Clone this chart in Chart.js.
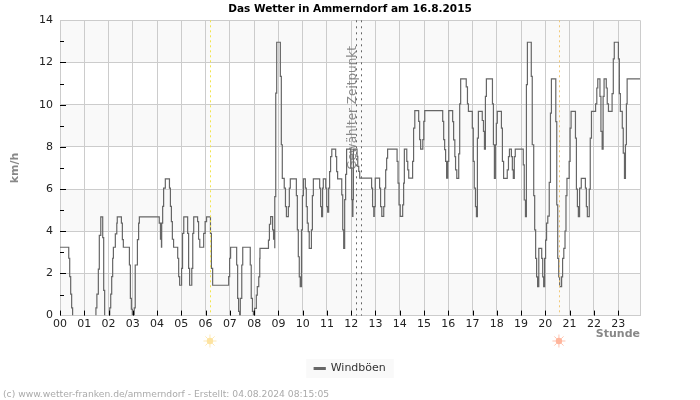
<!DOCTYPE html>
<html>
<head>
<meta charset="utf-8">
<script src="https://cdn.jsdelivr.net/npm/chart.js@4"></script>
<style>
body { margin: 0; background: #fff; }
</style>
</head>
<body>
<canvas id="chartWetter" width="700" height="400"></canvas>
<script>
const hourLabels = ['00','01','02','03','04','05','06','07','08','09','10','11','12','13','14','15','16','17','18','19','20','21','22','23'];
const axisEnd = 23.9;
const speedTicks = [0, 2, 4, 6, 8, 10, 12, 14];
const minorTicks = [1, 3, 5, 7, 9, 11, 13];
const bands = [[0, 2], [4, 6], [8, 10], [12, 14]];
const sunrise = 6.2;
const sunset = 20.58;
const selectedTime = [12.18, 12.42];

// Windboeen: Zeit in Stunden und km/h, Stufenlinie
const gustHours = [
  0, .36, .40, .44, .48, .52, 1.48, 1.48, 1.52, 1.58, 1.62, 1.68, 1.76, 1.80, 1.84, 2.05, 2.05, 2.09, 2.13, 2.17,
  2.2, 2.28, 2.34, 2.36, 2.53, 2.57, 2.61, 2.86, 2.9, 2.94, 2.98, 3.06, 3.06, 3.1, 3.19, 3.24, 3.27,
  4.09, 4.14, 4.18, 4.19, 4.23, 4.27, 4.34, 4.51, 4.55, 4.59, 4.63, 4.68, 4.85, 4.89, 4.93,
  5.01, 5.05, 5.10, 5.26, 5.30, 5.34, 5.43, 5.47, 5.51, 5.67, 5.71, 5.76, 5.92, 5.98,
  6.04, 6.2, 6.24, 6.29, 6.95, 6.99, 7.03, 7.28, 7.32, 7.36, 7.4, 7.43, 7.43, 7.49, 7.53, 7.84, 7.88, 7.93, 7.97, 8.02, 8.02,
  8.09, 8.13, 8.19, 8.23, 8.24, 8.59, 8.63, 8.68, 8.76, 8.80, 8.85, 8.85, 8.89, 8.93,
  9.08, 9.12, 9.16, 9.24, 9.29, 9.33, 9.41, 9.45, 9.49, 9.74, 9.78, 9.82, 9.86, 9.9, 9.95, 9.99,
  10.03, 10.11, 10.15, 10.19, 10.23, 10.27, 10.36, 10.4, 10.44, 10.7, 10.74, 10.78, 10.82, 10.85, 10.95, 10.99,
  11.03, 11.07, 11.11, 11.15, 11.2, 11.36, 11.4, 11.44, 11.61, 11.65, 11.69, 11.73, 11.77, 11.81, 11.98,
  12.02, 12.05, 12.07, 12.09, 12.24, 12.27, 12.31, 12.35, 12.84, 12.88, 12.93, 12.95, 12.99,
  13.17, 13.21, 13.26, 13.34, 13.38, 13.42, 13.46, 13.5, 13.89, 13.93, 13.97,
  14.02, 14.12, 14.16, 14.19, 14.29, 14.33, 14.37, 14.53, 14.57, 14.62, 14.78, 14.82, 14.86, 14.95, 14.99,
  15.03, 15.77, 15.81, 15.85, 15.89, 15.93, 15.98, 16.02,
  16.18, 16.22, 16.27, 16.3, 16.35, 16.43, 16.47, 16.51, 16.74, 16.79, 16.83, 16.99,
  17.03, 17.07, 17.12, 17.16, 17.2, 17.24, 17.4, 17.45, 17.49, 17.53, 17.57, 17.82, 17.86, 17.9, 17.94, 17.98,
  18.02, 18.19, 18.23, 18.28, 18.43, 18.48, 18.52, 18.6, 18.64, 18.68, 18.72, 18.76,
  19.09, 19.13, 19.18, 19.22, 19.26, 19.42, 19.46, 19.52, 19.56, 19.6, 19.64, 19.68, 19.73, 19.85, 19.89, 19.93, 19.97,
  20.01, 20.05, 20.1, 20.16, 20.21, 20.25, 20.43, 20.47, 20.51, 20.55, 20.59, 20.67, 20.71, 20.76, 20.81, 20.85, 20.89, 20.98,
  21.02, 21.06, 21.24, 21.28, 21.32, 21.36, 21.41, 21.48, 21.65, 21.69, 21.73, 21.81, 21.85, 21.9,
  22.07, 22.12, 22.16, 22.25, 22.29, 22.34, 22.38, 22.42, 22.51, 22.55, 22.6, 22.75, 22.8, 22.84,
  23.01, 23.05, 23.09, 23.17, 23.21, 23.26, 23.3, 23.34, 23.37, 23.9
];
const gustSpeeds = [
  3.24, 2.72, 1.85, 1.02, .37, 0, 0, .37, 1.02, 2.2, 3.8, 4.68, 3.7, 1.2, 0, 0, .37, 1.02, 1.85, 2.72,
  3.24, 3.87, 4.38, 4.68, 4.38, 3.6, 3.24, 2.4, .82, .3, 0, 0, .37, 2.4, 3.6, 4.38, 4.68,
  4.38, 3.62, 3.24, 4.38, 5.18, 6.04, 6.48, 6.04, 5.18, 4.46, 3.62, 3.24, 2.72, 1.85, 1.44,
  2.24, 3.9, 4.68, 3.9, 2.24, 1.44, 2.24, 3.9, 4.68, 4.46, 3.62, 3.24, 3.9, 4.46,
  4.68, 3.9, 2.24, 1.44, 1.85, 2.72, 3.24, 2.4, .82, .2, 0, 0, .82, 2.4, 3.24, 2.4, .82, .2, 0, 0, .34,
  .97, 1.37, 1.84, 2.71, 3.19, 3.58, 4.33, 4.69, 4.06, 3.62, 3.19, 5.64, 10.55, 12.96,
  11.34, 8.1, 6.51, 6.04, 5.17, 4.69, 5.17, 6.04, 6.48, 5.69, 4.06, 2.79, 1.84, 1.37, 4.06, 5.69,
  6.48, 6.04, 5.17, 4.38, 3.98, 3.19, 4.06, 5.69, 6.48, 6.04, 5.17, 4.69, 6.04, 6.48, 6.04, 5.17,
  4.9, 6.04, 6.83, 7.54, 7.89, 7.54, 6.83, 6.48, 5.72, 4.06, 3.19, 5.5, 6.7, 7.89, 7.0,
  5.5, 4.7, 5.5, 7.89, 7.55, 7.07, 6.84, 6.52, 6.04, 5.17, 4.7, 5.17, 6.52,
  6.04, 5.17, 4.7, 5.17, 6.04, 6.91, 7.47, 7.89, 7.31, 6.28, 5.25,
  4.7, 5.25, 6.28, 7.89, 7.31, 6.91, 6.52, 7.31, 8.89, 9.72, 9.21, 8.34, 7.89, 8.34, 9.21,
  9.72, 9.21, 8.34, 7.87, 7.31, 6.52, 7.31, 9.72,
  9.2, 8.33, 7.54, 6.91, 6.51, 7.67, 10.04, 11.22, 10.84, 10.04, 9.68, 8.89,
  7.31, 6.04, 5.17, 4.69, 8.41, 9.68, 9.25, 8.73, 7.89, 10.39, 11.22, 10.04, 8.1, 6.51, 8.1, 9.12,
  9.68, 8.89, 7.31, 6.51, 6.91, 7.54, 7.89, 7.54, 6.91, 6.51, 7.54, 7.89,
  7.15, 5.48, 4.69, 10.95, 12.96, 11.34, 8.1, 5.69, 4.06, 2.71, 1.84, 1.37, 3.19, 2.71, 1.84, 1.37, 2.71,
  3.58, 4.38, 4.72, 6.32, 9.6, 11.22, 9.2, 5.25, 2.71, 1.84, 1.37, 1.84, 2.71, 3.19, 4.01, 5.69, 6.51, 7.31,
  8.89, 9.68, 8.41, 6.0, 5.17, 4.69, 6.04, 6.51, 6.04, 5.17, 4.69, 6.0, 8.41, 9.68,
  10.04, 10.79, 11.22, 10.39, 8.73, 7.89, 10.39, 11.22, 10.79, 10.04, 9.68, 10.52, 12.17, 12.96,
  12.17, 10.52, 9.68, 8.89, 7.7, 6.51, 8.1, 10.04, 11.22, 11.22
];

const fontName = '"DejaVu Sans"';

function linieVertikal(ctx, x, top, bottom, cor, traco) {
  ctx.save();
  ctx.strokeStyle = cor;
  ctx.setLineDash(traco);
  ctx.beginPath();
  ctx.moveTo(Math.round(x) + 0.5, top);
  ctx.lineTo(Math.round(x) + 0.5, bottom);
  ctx.stroke();
  ctx.restore();
}

function desenharSol(ctx, x, y, cor) {
  ctx.save();
  ctx.fillStyle = cor;
  ctx.strokeStyle = cor;
  ctx.globalAlpha = 0.8;
  for (let i = 0; i < 8; i++) {
    const a = i * Math.PI / 4;
    ctx.beginPath();
    ctx.moveTo(x + Math.cos(a) * 3, y + Math.sin(a) * 3);
    ctx.lineTo(x + Math.cos(a) * 6.5, y + Math.sin(a) * 6.5);
    ctx.stroke();
  }
  ctx.globalAlpha = 1;
  ctx.beginPath();
  ctx.arc(x, y, 3.2, 0, Math.PI * 2);
  ctx.fill();
  ctx.restore();
}

const wetterPlugin = {
  id: 'wetter',
  beforeDraw(chart) {
    const { ctx, chartArea: a, scales: { y }, legend } = chart;
    ctx.save();
    ctx.fillStyle = '#f9f9f9';
    bands.forEach(b => {
      const top = y.getPixelForValue(b[1]);
      ctx.fillRect(a.left, top, a.right - a.left, y.getPixelForValue(b[0]) - top);
    });
    // fundo da legenda
    const hb = legend.legendHitBoxes[0];
    ctx.fillRect(hb.left - 8, hb.top + hb.height / 2 - 9.5, hb.width + 16, 19);
    ctx.restore();
  },
  afterDatasetsDraw(chart) {
    const { ctx, chartArea: a, scales: { x, y } } = chart;
    linieVertikal(ctx, x.getPixelForValue(sunrise), a.top, a.bottom, '#f2e44a', [2, 3]);
    linieVertikal(ctx, x.getPixelForValue(sunset), a.top, a.bottom, '#f0c878', [2, 3]);
    selectedTime.forEach(t => linieVertikal(ctx, x.getPixelForValue(t), a.top, a.bottom, '#666666', [2, 4]));

    // marcas internas dos eixos
    ctx.save();
    ctx.strokeStyle = '#000';
    ctx.beginPath();
    hourLabels.forEach((l, i) => {
      const px = Math.round(x.getPixelForValue(i)) + 0.5;
      ctx.moveTo(px, a.bottom - 5);
      ctx.lineTo(px, a.bottom);
    });
    speedTicks.slice(1, -1).forEach(v => {
      const py = Math.round(y.getPixelForValue(v)) + 0.5;
      ctx.moveTo(a.left, py);
      ctx.lineTo(a.left + 6, py);
    });
    minorTicks.forEach(v => {
      const py = Math.round(y.getPixelForValue(v)) + 0.5;
      ctx.moveTo(a.left, py);
      ctx.lineTo(a.left + 4, py);
    });
    ctx.stroke();

    ctx.translate(x.getPixelForValue(selectedTime[0]) - 3, y.getPixelForValue(6.91));
    ctx.rotate(-Math.PI / 2);
    ctx.fillStyle = 'rgba(110,110,110,0.8)';
    ctx.font = '12px ' + fontName;
    ctx.fillText('Gewählter Zeitpunkt', 0, 0);
    ctx.restore();

    desenharSol(ctx, x.getPixelForValue(sunrise) - 0.5, 341, '#fde3a0');
    desenharSol(ctx, x.getPixelForValue(sunset) - 0.5, 341, '#ffb59c');

    ctx.save();
    ctx.fillStyle = '#aaaaaa';
    ctx.font = '9.2px ' + fontName;
    ctx.fillText('(c) www.wetter-franken.de/ammerndorf - Erstellt: 04.08.2024 08:15:05', 3, 395);
    ctx.restore();
  }
};

function carregarGrafico() {
  const ctx = document.getElementById('chartWetter').getContext('2d');
  new Chart(ctx, {
    type: 'line',
    plugins: [wetterPlugin],
    data: {
      datasets: [{
        label: 'Windböen',
        data: gustHours.map((h, i) => ({ x: h, y: gustSpeeds[i] })),
        stepped: true,
        borderColor: '#666666',
        backgroundColor: '#666666',
        borderWidth: 1.2,
        pointRadius: 0,
        segment: {
          // bei 0 km/h keine Linie
          borderColor: c => (c.p0.parsed.y === 0 && c.p1.parsed.y === 0) ? 'transparent' : undefined
        }
      }]
    },
    options: {
      responsive: false,
      animation: false,
      layout: { padding: { bottom: 16 } },
      scales: {
        x: {
          type: 'linear',
          min: 0,
          max: axisEnd,
          afterBuildTicks: s => {
            s.ticks = hourLabels.map((l, i) => ({ value: i })).concat({ value: axisEnd });
          },
          grid: { color: '#cccccc', drawTicks: false },
          border: { color: '#cccccc' },
          ticks: {
            autoSkip: false,
            maxRotation: 0,
            padding: 2,
            color: '#222',
            font: { family: fontName, size: 11 },
            callback: v => hourLabels[v] ?? ''
          },
          title: {
            display: true,
            text: 'Stunde',
            align: 'end',
            color: '#888888',
            font: { family: fontName, size: 11, weight: 'bold' },
            padding: { top: -5, bottom: 17 }
          }
        },
        y: {
          min: 0,
          max: 14,
          afterFit: s => { s.width = 60; },
          grid: { color: '#cccccc', drawTicks: false },
          border: { color: '#cccccc' },
          ticks: {
            stepSize: 2,
            padding: 7,
            color: '#222',
            font: { family: fontName, size: 11 }
          },
          title: {
            display: true,
            text: 'km/h',
            color: '#888888',
            font: { family: fontName, size: 11, weight: 'bold' },
            padding: { top: 9, bottom: 0 }
          }
        },
        // leere Achse rechts, damit Titel und Legende mittig bleiben
        yRand: {
          position: 'right',
          afterFit: s => { s.width = 60; },
          grid: { display: false },
          border: { display: false },
          ticks: { display: false }
        }
      },
      plugins: {
        title: {
          display: true,
          text: 'Das Wetter in Ammerndorf am 16.8.2015',
          color: '#000',
          font: { family: fontName, size: 10.5, weight: 'bold' },
          padding: { top: 3, bottom: 4.7 }
        },
        legend: {
          position: 'bottom',
          labels: {
            boxWidth: 11,
            boxHeight: 2,
            padding: 5,
            color: '#333',
            font: { family: fontName, size: 11 }
          }
        },
        tooltip: { enabled: false }
      }
    }
  });
}

carregarGrafico();
</script>
</body>
</html>
